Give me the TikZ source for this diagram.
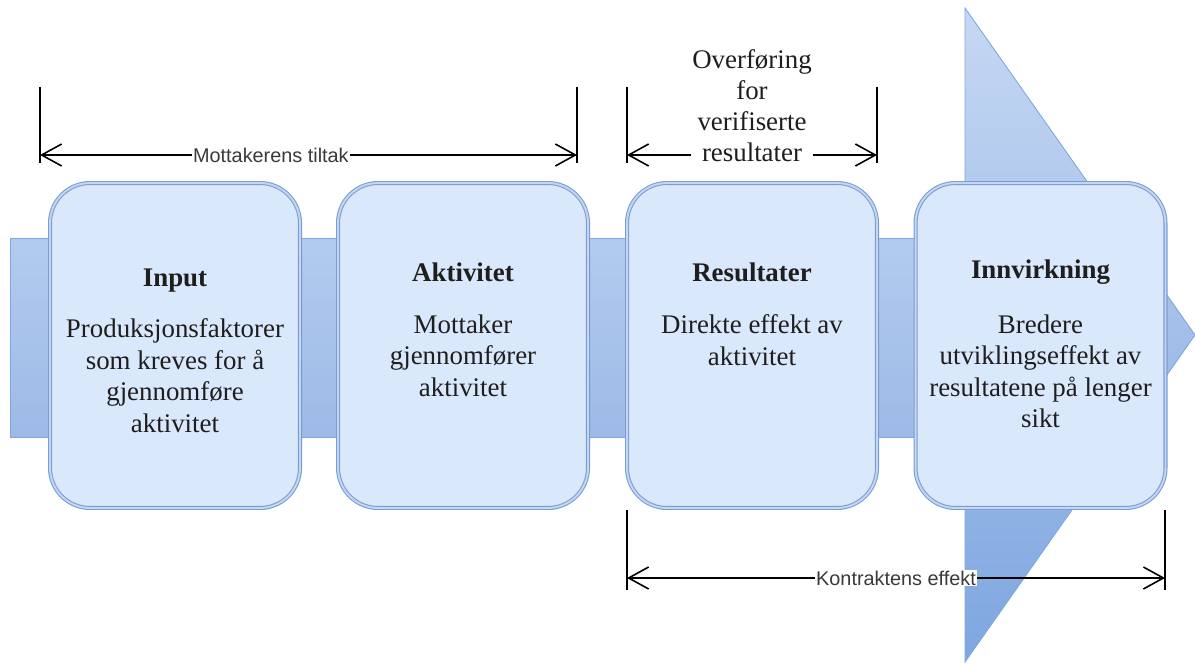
\documentclass[tikz,border=0pt]{standalone}
\usepackage{fontspec}
\setmainfont{Liberation Serif}
\setsansfont{Liberation Sans}
\usetikzlibrary{calc,positioning,arrows.meta}
\definecolor{edge}{HTML}{7EA6E0}
\definecolor{bandtop}{HTML}{B2CBEF}
\definecolor{bandbot}{HTML}{9DBAE7}
\definecolor{headtop}{HTML}{C6D8F3}
\definecolor{headbot}{HTML}{7EA6E0}
\definecolor{boxfill}{HTML}{DAE8FC}
\definecolor{rim}{HTML}{7A9CD3}
\definecolor{gap}{HTML}{C4D6F1}
\definecolor{ink}{HTML}{1E1E1E}
\definecolor{grey}{HTML}{3A3A3A}
\tikzset{
  band/.style={draw=edge, line width=0.5pt, top color=bandtop, bottom color=bandbot},
  head/.style={draw=edge, line width=0.5pt, top color=headtop, bottom color=headbot},
  stage/.style={draw=rim, line width=0.6pt, double=gap, double distance=1.1pt, fill=boxfill,
    rounded corners=0.8cm, minimum width=5cm, minimum height=6.5cm, inner sep=0pt},
  ttl/.style={text=ink, font=\fontsize{15.3pt}{17.9pt}\selectfont\bfseries, inner sep=0pt},
  body/.style={text=ink, font=\fontsize{15.3pt}{17.9pt}\selectfont, align=center, inner sep=0pt, anchor=north},
  tick/.style={draw=black, line width=0.75pt},
  dim/.style={draw=black, line width=0.75pt,
    {Straight Barb[length=4mm,width=4.4mm,line width=0.9pt]}-{Straight Barb[length=4mm,width=4.4mm,line width=0.9pt]}},
  dimlab/.style={text=grey, fill=white, font=\sffamily\fontsize{11.3pt}{13pt}\selectfont, inner sep=0.5pt},
  dimlabs/.style={text=ink, fill=white, font=\fontsize{15.3pt}{17.6pt}\selectfont, align=center, inner sep=0.5pt},
}

\begin{document}
\begin{tikzpicture}[x=0.02cm,y=-0.02cm]
  \useasboundingbox (0,0) rectangle (1195,662);

  % band and arrow head
  \draw[band] (10,238) rectangle (965,437);
  \draw[head] (965,8) -- (1195,335) -- (965,662) -- cycle;

  % stages
  \node[stage] (inp) at (175,345.5) {};
  \node[stage] (akt) at (463,345.5) {};
  \node[stage] (res) at (752,345.5) {};
  \node[stage] (inn) at (1040.5,345.5) {};

  \node[ttl] (inpT) at ($(inp.north)+(0,98)$) {Input};
  \node[ttl] (aktT) at ($(akt.north)+(0,90)$) {Aktivitet};
  \node[ttl] (resT) at ($(res.north)+(0,90)$) {Resultater};
  \node[ttl] (innT) at ($(inn.north)+(0,90)$) {Innvirkning};

  \node[body] (inpB) at ($(inp.north)+(0,136)$)
    {Produksjonsfaktorer\\som kreves for å\\gjennomføre\\aktivitet};
  \node[body] (aktB) at ($(akt.north)+(0,132)$)
    {Mottaker\\gjennomfører\\aktivitet};
  \node[body] (resB) at ($(res.north)+(0,132)$)
    {Direkte effekt av\\aktivitet};
  \node[body] (innB) at ($(inn.north)+(0,132)$)
    {Bredere\\utviklingseffekt av\\resultatene på lenger\\sikt};

  % dimension lines
  \coordinate (mA) at (40,87);   \coordinate (mB) at (40,163);
  \coordinate (mC) at (577,87);  \coordinate (mD) at (577,163);
  \coordinate (mL) at (40,155);  \coordinate (mR) at (577,155);
  \draw[tick] (mA) -- (mB);
  \draw[tick] (mC) -- (mD);
  \draw[dim] (mL) -- (mR) node[dimlab, pos=0.43] (mlab) {Mottakerens tiltak};

  \coordinate (oA) at (627,87);  \coordinate (oB) at (627,163);
  \coordinate (oC) at (877,87);  \coordinate (oD) at (877,163);
  \coordinate (oL) at (627,155); \coordinate (oR) at (877,155);
  \draw[tick] (oA) -- (oB);
  \draw[tick] (oC) -- (oD);
  \draw[dim] (oL) -- (oR);
  \node[dimlabs] (olab) at ($(oL)!0.5!(oR)+(0,-49)$) {Overføring\\for\\verifiserte\\resultater};

  \coordinate (kA) at (627,510); \coordinate (kB) at (627,590);
  \coordinate (kC) at (1165,510); \coordinate (kD) at (1165,590);
  \coordinate (kL) at (627,578); \coordinate (kR) at (1165,578);
  \draw[tick] (kA) -- (kB);
  \draw[tick] (kC) -- (kD);
  \draw[dim] (kL) -- (kR) node[dimlab, midway] (klab) {Kontraktens effekt};
\end{tikzpicture}
\end{document}
